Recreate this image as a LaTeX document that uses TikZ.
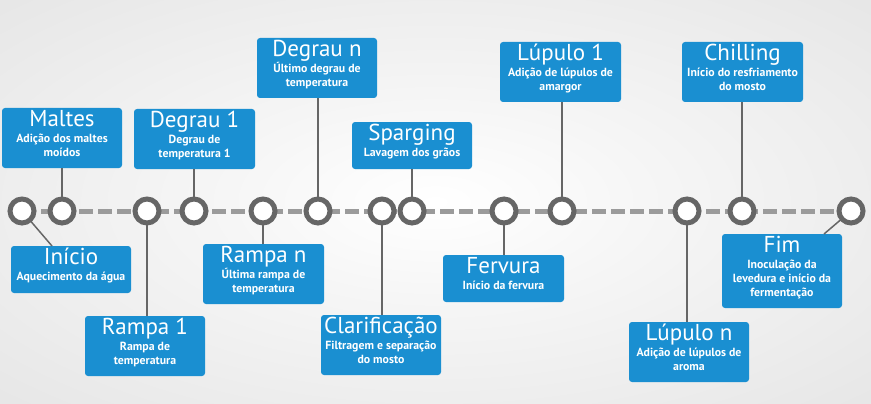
\documentclass[tikz,border=0pt]{standalone}
\usepackage{fontspec}
\setmainfont{PT Sans}
\usetikzlibrary{calc}
\definecolor{boxblue}{HTML}{1A8FD1}
\definecolor{ringgray}{HTML}{666666}
\definecolor{dashgray}{HTML}{9B9B9B}
\definecolor{bgedge}{HTML}{DDDDDD}
\definecolor{bgmid}{HTML}{F6F6F6}
\pgfdeclareradialshading{bgshade}{\pgfpoint{0bp}{0bp}}{color(0bp)=(white); color(12bp)=(bgmid); color(50bp)=(bgedge); color(72bp)=(bgedge)}
\tikzset{
  evbox/.style={rectangle, fill=boxblue, rounded corners=3pt, inner sep=0pt},
  ttl/.style={anchor=base, text=white, inner sep=0pt, font=\fontsize{23}{25}\selectfont},
  sub/.style={anchor=base, text=white, inner sep=0pt, font=\bfseries\fontsize{11.8}{14}\selectfont},
  conn/.style={draw=ringgray, line width=1.5pt},
  dashline/.style={draw=dashgray, line width=5pt, dash pattern=on 14pt off 5pt},
  dot/.style={circle, draw=ringgray, fill=white, line width=5pt, minimum size=24pt, inner sep=0pt}
}
\newcommand\evbox[7]{%
  \node[evbox, minimum width={#4-#2}, minimum height={#5-#3}] (#1) at ({(#2+#4)/2},{(#3+#5)/2}) {};
  \node[ttl] (#1-t) at ($(#1.north)+(0,19)$) {#6};
  \node[sub] (#1-s) at ($(#1.north)+(0,35)$) {\begin{tabular}[t]{@{}c@{}}#7\end{tabular}};
}
\begin{document}
\begin{tikzpicture}[x=1pt,y=-1pt]
\useasboundingbox (0,0) rectangle (871,404);
\shade[shading=bgshade] (0,0) rectangle (871,404);
% boxes
\evbox{maltes}{2}{108}{122}{168}{Maltes}{Adição dos maltes\\moídos}
\evbox{inicio}{11}{246}{131}{293}{Início}{Aquecimento da água}
\evbox{degrau1}{134}{109}{255}{169}{Degrau 1}{Degrau de\\temperatura 1}
\evbox{rampa1}{85}{316}{205}{376}{Rampa 1}{Rampa de\\temperatura}
\evbox{rampan}{203}{244}{324}{304}{Rampa n}{Última rampa de\\temperatura}
\evbox{degraun}{257}{38}{377}{98}{Degrau n}{Último degrau de\\temperatura}
\evbox{clarif}{321}{315}{441}{375}{Clarificação}{Filtragem e separação\\do mosto}
\evbox{sparg}{352}{122}{472}{169}{Sparging}{Lavagem dos grãos}
\evbox{fervura}{443}{255}{564}{302}{Fervura}{Início da fervura}
\evbox{lupulo1}{500}{42}{621}{102}{Lúpulo 1}{Adição de lúpulos de\\amargor}
\evbox{lupulon}{629}{322}{749}{382}{Lúpulo n}{Adição de lúpulos de\\aroma}
\evbox{chill}{682}{42}{803}{102}{Chilling}{Início do resfriamento\\do mosto}
\evbox{fim}{722}{234}{842}{308}{Fim}{Inoculação da\\levedura e início da\\fermentação}
% circle positions
\coordinate (p1) at (22,211);
\coordinate (p2) at (62,211);
\coordinate (p3) at (147,211);
\coordinate (p4) at (194,211);
\coordinate (p5) at (263,211);
\coordinate (p6) at (318,211);
\coordinate (p7) at (382,211);
\coordinate (p8) at (412,211);
\coordinate (p9) at (504,211);
\coordinate (p10) at (562,211);
\coordinate (p11) at (687,211);
\coordinate (p12) at (742,211);
\coordinate (p13) at (851,211);
\coordinate (inicio-a) at (52,246);
\coordinate (fim-a) at (824,234);
% connectors
\draw[conn] (p1) -- (inicio-a);
\draw[conn] (maltes.south -| p2) -- (p2);
\draw[conn] (rampa1.north -| p3) -- (p3);
\draw[conn] (degrau1.south -| p4) -- (p4);
\draw[conn] (rampan.north -| p5) -- (p5);
\draw[conn] (degraun.south -| p6) -- (p6);
\draw[conn] (clarif.north -| p7) -- (p7);
\draw[conn] (sparg.south -| p8) -- (p8);
\draw[conn] (fervura.north -| p9) -- (p9);
\draw[conn] (lupulo1.south -| p10) -- (p10);
\draw[conn] (lupulon.north -| p11) -- (p11);
\draw[conn] (chill.south -| p12) -- (p12);
\draw[conn] (p13) -- (fim-a);
% timeline
\draw[dashline] (p1) -- (p13);
\foreach \i in {1,...,13} { \node[dot] (c\i) at (p\i) {}; }
\end{tikzpicture}
\end{document}
